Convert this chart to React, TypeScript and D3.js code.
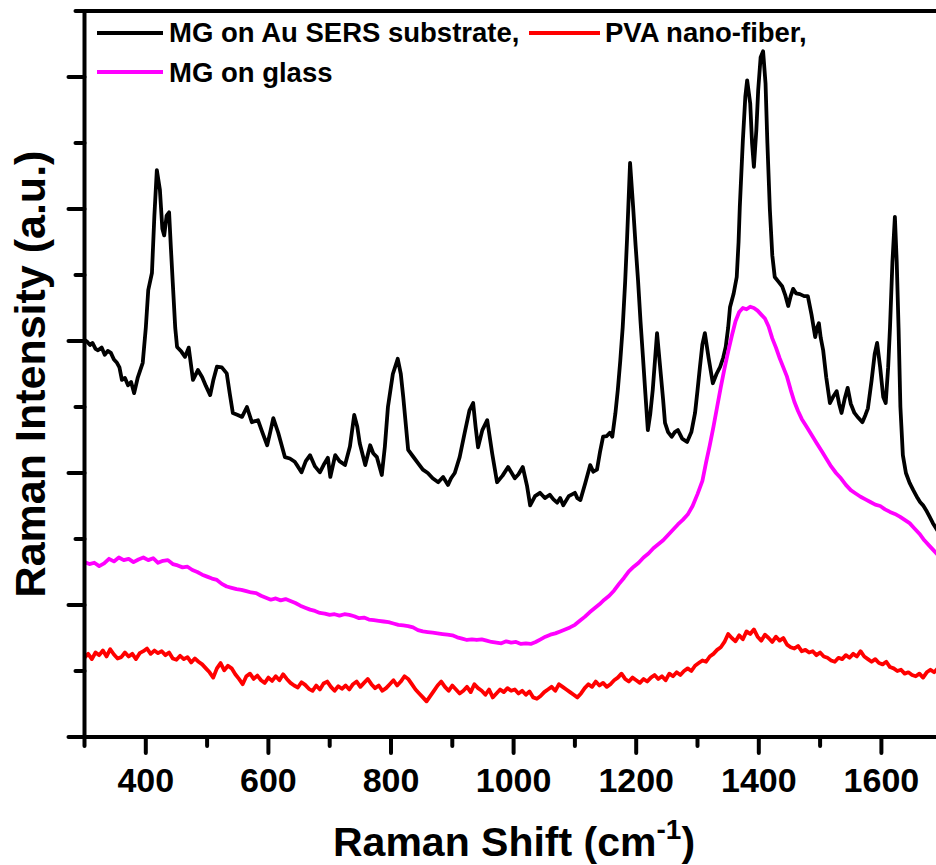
import React from "react";
import * as d3 from "d3";

const xTicks = [300, 400, 500, 600, 700, 800, 900, 1000, 1100, 1200, 1300, 1400, 1500, 1600, 1700];
const xTickLabels = ["400", "600", "800", "1000", "1200", "1400", "1600"];
const yTicks = [0, 100, 200, 300, 400, 500, 600, 700, 800, 900, 1000, 1100];

const seriesNames = ["MG on Au SERS substrate,", "PVA nano-fiber,", "MG on glass"];

const sersAu: [number, number][] = [
  [301, 601], [304, 599], [309, 594], [313, 597], [318, 588], [322, 586], [328, 590], [333, 579], [338, 585], [343, 582],
  [348, 572], [353, 567], [357, 560], [361, 541], [366, 544], [371, 533], [376, 538], [381, 521], [387, 545], [395, 567],
  [400, 620], [404, 677], [410, 703], [414, 790], [418, 859], [423, 829], [427, 770], [430, 760], [434, 790], [438, 795],
  [441, 740], [444, 688], [448, 620], [451, 591], [458, 584], [464, 576], [470, 590], [477, 541], [485, 556], [492, 545],
  [498, 532], [505, 518], [510, 540], [516, 561], [524, 560], [532, 551], [537, 520], [542, 491], [550, 488], [557, 485],
  [565, 500], [573, 477], [583, 480], [590, 462], [598, 442], [603, 462], [608, 483], [616, 461], [627, 424], [635, 422],
  [643, 417], [648, 410], [654, 401], [661, 418], [668, 427], [676, 410], [684, 401], [690, 412], [697, 423], [701, 394],
  [709, 427], [716, 418], [725, 412], [733, 440], [740, 488], [745, 470], [749, 445], [758, 412], [766, 442], [771, 430],
  [777, 424], [785, 397], [790, 440], [795, 500], [803, 550], [811, 573], [816, 550], [820, 515], [828, 435], [836, 425],
  [844, 415], [852, 405], [860, 400], [868, 392], [877, 386], [885, 394], [893, 382], [898, 392], [904, 400], [912, 424],
  [920, 460], [928, 495], [934, 506], [938, 470], [942, 439], [949, 465], [957, 480], [965, 430], [973, 386], [982, 396],
  [991, 409], [1002, 392], [1008, 398], [1015, 409], [1022, 380], [1027, 351], [1035, 365], [1043, 370], [1051, 362], [1059, 367],
  [1065, 360], [1071, 355], [1076, 362], [1081, 351], [1090, 365], [1100, 370], [1104, 362], [1109, 359], [1117, 385], [1125, 412],
  [1130, 402], [1136, 405], [1141, 432], [1146, 455], [1152, 456], [1157, 461], [1161, 455], [1166, 490], [1170, 526], [1174, 570],
  [1178, 621], [1182, 690], [1185, 753], [1190, 870], [1195, 803], [1199, 745], [1203, 692], [1207, 630], [1211, 576], [1215, 520],
  [1219, 465], [1223, 490], [1227, 526], [1234, 612], [1240, 551], [1244, 510], [1247, 476], [1252, 462], [1258, 455], [1263, 462],
  [1268, 465], [1275, 452], [1283, 447], [1290, 462], [1296, 491], [1300, 525], [1304, 561], [1308, 595], [1312, 612], [1318, 575],
  [1325, 536], [1331, 550], [1337, 561], [1342, 575], [1346, 591], [1350, 620], [1353, 651], [1359, 672], [1364, 697], [1367, 750],
  [1369, 803], [1374, 904], [1378, 970], [1381, 995], [1386, 960], [1389, 900], [1392, 864], [1396, 920], [1399, 980], [1403, 1030],
  [1407, 1039], [1411, 990], [1414, 900], [1418, 800], [1422, 730], [1426, 697], [1432, 690], [1438, 683], [1443, 670], [1448, 653],
  [1452, 668], [1456, 679], [1461, 672], [1467, 671], [1474, 668], [1480, 668], [1486, 640], [1492, 606], [1495, 620], [1498, 627],
  [1501, 605], [1505, 586], [1510, 545], [1516, 506], [1521, 515], [1527, 524], [1531, 505], [1535, 491], [1540, 512], [1545, 529],
  [1550, 505], [1556, 491], [1562, 484], [1569, 477], [1574, 488], [1578, 498], [1584, 540], [1589, 580], [1593, 597], [1598, 560],
  [1603, 515], [1607, 506], [1611, 560], [1614, 620], [1618, 720], [1622, 788], [1625, 720], [1628, 620], [1631, 500], [1635, 427],
  [1640, 400], [1646, 385], [1652, 374], [1659, 362], [1663, 356], [1668, 351], [1674, 342], [1679, 333], [1684, 324], [1692, 312],
  [1700, 300],
];

const pvaFiber: [number, number][] = [
  [300, 120], [306, 126], [312, 118], [318, 128], [324, 124], [330, 131], [336, 122], [342, 133], [348, 125], [354, 119],
  [360, 121], [366, 128], [372, 122], [378, 126], [384, 118], [390, 127], [396, 130], [402, 134], [408, 126], [414, 131],
  [420, 127], [426, 130], [432, 124], [438, 128], [444, 119], [450, 117], [456, 123], [462, 118], [468, 121], [474, 113],
  [480, 119], [486, 114], [492, 110], [498, 104], [504, 98], [510, 90], [516, 104], [522, 112], [528, 101], [534, 108],
  [540, 104], [546, 95], [552, 88], [558, 80], [564, 92], [570, 96], [576, 88], [582, 93], [588, 86], [594, 82],
  [600, 90], [606, 85], [612, 92], [618, 86], [624, 95], [630, 88], [636, 82], [642, 78], [648, 75], [654, 83],
  [660, 79], [666, 73], [672, 70], [678, 78], [684, 72], [690, 81], [696, 84], [702, 76], [708, 70], [714, 77],
  [720, 73], [726, 78], [732, 72], [738, 80], [744, 84], [750, 76], [756, 82], [762, 88], [768, 80], [774, 74],
  [780, 78], [786, 70], [792, 74], [798, 80], [804, 86], [810, 78], [816, 84], [822, 92], [828, 88], [834, 80],
  [840, 72], [846, 66], [852, 60], [858, 54], [864, 62], [870, 70], [876, 78], [882, 84], [888, 76], [894, 70],
  [900, 78], [906, 72], [912, 66], [918, 70], [924, 76], [930, 68], [936, 80], [942, 74], [948, 70], [954, 64],
  [960, 72], [966, 60], [972, 66], [978, 72], [984, 68], [990, 74], [996, 70], [1002, 72], [1008, 66], [1014, 70],
  [1020, 64], [1026, 69], [1032, 60], [1038, 58], [1044, 62], [1050, 68], [1056, 72], [1062, 76], [1068, 70], [1074, 80],
  [1080, 76], [1086, 72], [1092, 68], [1098, 64], [1104, 60], [1110, 66], [1116, 74], [1122, 80], [1128, 76], [1134, 84],
  [1140, 78], [1146, 82], [1152, 76], [1158, 80], [1164, 86], [1170, 90], [1176, 96], [1182, 88], [1188, 84], [1194, 90],
  [1200, 86], [1206, 82], [1212, 88], [1218, 84], [1224, 90], [1230, 94], [1236, 88], [1242, 92], [1248, 86], [1254, 96],
  [1260, 92], [1266, 98], [1272, 94], [1278, 100], [1284, 104], [1290, 100], [1296, 108], [1302, 112], [1308, 116], [1314, 114],
  [1320, 122], [1326, 126], [1332, 132], [1338, 136], [1344, 144], [1350, 156], [1356, 150], [1362, 145], [1368, 154], [1374, 148],
  [1380, 160], [1386, 156], [1392, 163], [1398, 152], [1404, 146], [1410, 155], [1416, 150], [1422, 144], [1428, 152], [1434, 146],
  [1440, 150], [1446, 140], [1452, 136], [1458, 134], [1464, 138], [1470, 130], [1476, 132], [1482, 128], [1488, 130], [1494, 124],
  [1500, 128], [1506, 122], [1512, 120], [1518, 116], [1524, 114], [1530, 120], [1536, 118], [1542, 124], [1548, 120], [1554, 126],
  [1560, 122], [1566, 130], [1572, 122], [1578, 118], [1584, 114], [1590, 118], [1596, 112], [1602, 110], [1608, 114], [1614, 106],
  [1620, 104], [1626, 100], [1632, 102], [1638, 96], [1644, 98], [1650, 94], [1656, 92], [1662, 96], [1668, 90], [1674, 98],
  [1680, 102], [1686, 98], [1692, 104], [1700, 100],
];

const mgGlass: [number, number][] = [
  [300, 265], [308, 262], [316, 264], [324, 259], [332, 263], [340, 270], [348, 266], [356, 272], [364, 268], [372, 270],
  [380, 265], [388, 269], [396, 272], [404, 268], [412, 271], [420, 264], [428, 267], [436, 268], [444, 262], [452, 260],
  [460, 257], [468, 258], [476, 253], [484, 250], [492, 246], [500, 243], [508, 240], [516, 238], [524, 232], [532, 228],
  [540, 226], [548, 224], [556, 223], [564, 221], [572, 219], [580, 218], [588, 214], [596, 211], [604, 208], [612, 210],
  [620, 207], [628, 209], [636, 206], [644, 203], [652, 199], [660, 196], [668, 193], [676, 191], [684, 188], [692, 187],
  [700, 185], [708, 186], [716, 184], [724, 186], [732, 185], [740, 183], [748, 180], [756, 181], [764, 178], [772, 177],
  [780, 176], [788, 175], [796, 174], [804, 172], [812, 170], [820, 169], [828, 168], [836, 166], [844, 162], [852, 160],
  [860, 159], [868, 158], [876, 157], [884, 156], [892, 155], [900, 154], [908, 151], [916, 149], [924, 147], [932, 148],
  [940, 147], [948, 148], [956, 146], [964, 144], [972, 143], [980, 142], [988, 145], [996, 143], [1004, 144], [1012, 141],
  [1020, 142], [1028, 141], [1036, 144], [1044, 148], [1052, 152], [1060, 155], [1068, 157], [1076, 160], [1084, 163], [1092, 166],
  [1100, 170], [1108, 176], [1116, 182], [1124, 189], [1132, 195], [1140, 201], [1148, 208], [1156, 214], [1164, 222], [1172, 232],
  [1180, 241], [1188, 251], [1196, 258], [1204, 264], [1212, 272], [1220, 278], [1228, 286], [1236, 292], [1244, 298], [1252, 306],
  [1260, 314], [1268, 322], [1276, 329], [1284, 337], [1292, 350], [1300, 368], [1308, 388], [1314, 416], [1320, 442], [1326, 470],
  [1332, 500], [1338, 530], [1344, 558], [1350, 584], [1356, 608], [1362, 630], [1368, 644], [1374, 650], [1380, 648], [1386, 652],
  [1392, 650], [1398, 646], [1404, 640], [1410, 634], [1416, 622], [1422, 604], [1428, 590], [1434, 574], [1440, 560], [1446, 546],
  [1452, 526], [1458, 508], [1464, 494], [1470, 482], [1478, 470], [1486, 458], [1494, 446], [1502, 434], [1510, 422], [1518, 410],
  [1526, 400], [1534, 392], [1542, 382], [1550, 374], [1558, 369], [1566, 364], [1574, 360], [1582, 356], [1590, 352], [1598, 350],
  [1606, 345], [1614, 341], [1622, 338], [1630, 334], [1638, 329], [1646, 324], [1654, 316], [1662, 308], [1670, 298], [1678, 290],
  [1686, 282], [1694, 274], [1700, 268],
];

const seriesData = [sersAu, pvaFiber, mgGlass];
const seriesColors = ["#000000", "#ff0000", "#ff00ff"];

export default function App() {
  const W = 936;
  const H = 865;
  const left = 84.5;
  const right = 942.7;
  const top = 11;
  const bottom = 737;
  const x = d3.scaleLinear().domain([300, 1700]).range([left, right]);
  const y = d3.scaleLinear().domain([0, 1100]).range([bottom, top]);
  const line = d3
    .line<[number, number]>()
    .x((d) => x(d[0]))
    .y((d) => y(d[1]));
  const font = "'Liberation Sans', Arial, sans-serif";

  return (
    <svg
      width={W}
      height={H}
      style={{ position: "absolute", left: 0, top: 0, background: "#fff" }}
      fontFamily={font}
    >
      <defs>
        <clipPath id="plotclip">
          <rect x={left} y={top} width={right - left} height={bottom - top} />
        </clipPath>
      </defs>
      <rect x={0} y={0} width={W} height={H} fill="#fff" />
      <g clipPath="url(#plotclip)">
        {seriesData.map((s, i) => (
          <path
            key={i}
            d={line(s) || ""}
            fill="none"
            stroke={seriesColors[i]}
            strokeWidth={3.8}
            strokeLinejoin="round"
            strokeLinecap="round"
          />
        ))}
      </g>
      <rect x={left} y={top} width={right - left} height={bottom - top} fill="none" stroke="#000" strokeWidth={4} />
      {xTicks.map((t) => {
        const major = t % 200 === 0;
        return (
          <line
            key={"xt" + t}
            x1={x(t)}
            x2={x(t)}
            y1={bottom}
            y2={bottom + (major ? 16 : 9)}
            stroke="#000"
            strokeWidth={4}
            strokeLinecap="round"
          />
        );
      })}
      {xTickLabels.map((l) => (
        <text key={"xl" + l} x={x(+l)} y={792} textAnchor="middle" fontSize={34} fontWeight="bold">
          {l}
        </text>
      ))}
      {yTicks.map((t) => {
        const major = t % 200 === 0;
        return (
          <line
            key={"yt" + t}
            x1={left}
            x2={left - (major ? 16 : 9)}
            y1={y(t)}
            y2={y(t)}
            stroke="#000"
            strokeWidth={4}
            strokeLinecap="round"
          />
        );
      })}
      <text x={514} y={856} textAnchor="middle" fontSize={41} fontWeight="bold">
        Raman Shift (cm
        <tspan dy={-17} fontSize={28}>-1</tspan>
        <tspan dy={17}>)</tspan>
      </text>
      <text
        transform={`translate(45, ${(top + bottom) / 2}) rotate(-90)`}
        textAnchor="middle"
        fontSize={43}
        fontWeight="bold"
      >
        Raman Intensity (a.u.)
      </text>
      <line x1={97} x2={163} y1={33} y2={33} stroke={seriesColors[0]} strokeWidth={4} />
      <text x={169} y={42} fontSize={27.5} fontWeight="bold">{seriesNames[0]}</text>
      <line x1={529} x2={600} y1={33} y2={33} stroke={seriesColors[1]} strokeWidth={4} />
      <text x={605} y={42} fontSize={27.5} fontWeight="bold">{seriesNames[1]}</text>
      <line x1={97} x2={163} y1={72} y2={72} stroke={seriesColors[2]} strokeWidth={4} />
      <text x={169} y={82} fontSize={27.5} fontWeight="bold">{seriesNames[2]}</text>
    </svg>
  );
}
